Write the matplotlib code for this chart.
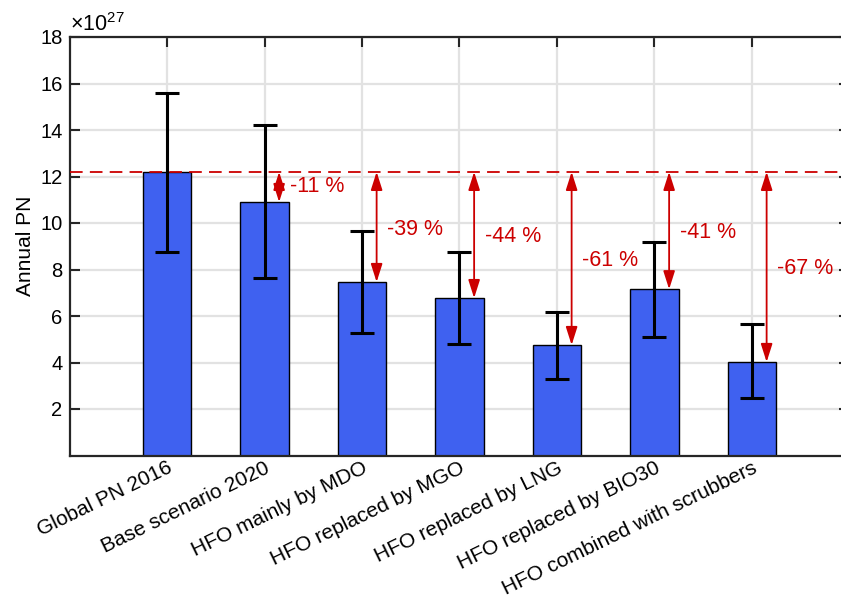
import numpy as np
import matplotlib.pyplot as plt

plt.rcParams['font.family'] = ['Liberation Sans', 'DejaVu Sans']
plt.rcParams['mathtext.fontset'] = 'custom'
plt.rcParams['mathtext.rm'] = 'Liberation Sans'

# annual particle number, in units of 1e27
scenarios = ['Global PN 2016', 'Base scenario 2020', 'HFO mainly by MDO',
             'HFO replaced by MGO', 'HFO replaced by LNG', 'HFO replaced by BIO30',
             'HFO combined with scrubbers']
pn_mean = [12.2, 10.9, 7.46, 6.77, 4.75, 7.15, 4.02]
pn_high = [15.6, 14.2, 9.66, 8.75, 6.17, 9.18, 5.66]
pn_low = [8.75, 7.63, 5.27, 4.80, 3.29, 5.10, 2.47]
change_labels = ['-11 %', '-39 %', '-44 %', '-61 %', '-41 %', '-67 %']
label_y = [11.55, 9.74, 9.4, 8.4, 9.61, 8.06]

blue = '#3F61F0'
red = '#CC0000'

fig = plt.figure(figsize=(8.41, 6.03), dpi=100)
ax = fig.add_axes([69.5 / 841, 1 - 455.5 / 603, 780 / 841, 418.5 / 603])

x = np.arange(1, len(scenarios) + 1)
mean = np.array(pn_mean)
yerr = [mean - np.array(pn_low), np.array(pn_high) - mean]

ax.bar(x, mean, width=0.5, color=blue, edgecolor='black', linewidth=1, zorder=2)
ax.errorbar(x, mean, yerr=yerr, fmt='none', ecolor='black', elinewidth=2.2,
            capsize=8.5, capthick=2.2, zorder=3)

# reference level and reductions relative to 2016
base = pn_mean[0]
ax.axhline(base, color=red, lw=1.3, linestyle=(0, (7, 4)), zorder=4)
for i in range(1, len(scenarios)):
    xa = x[i] + 0.15
    ax.annotate('', xy=(xa, pn_mean[i]), xytext=(xa, base),
                arrowprops=dict(arrowstyle='<|-|>,head_length=1.1,head_width=0.35',
                                color=red, lw=1.3, shrinkA=0, shrinkB=0,
                                mutation_scale=10),
                zorder=5)
    ax.text(xa + 0.11, label_y[i - 1], change_labels[i - 1], color=red,
            fontsize=15.5, ha='left', va='center', zorder=5)

ax.set_xlim(0, 8)
ax.set_ylim(0, 18)
ax.set_yticks(np.arange(2, 19, 2))
ax.set_xticks(x)
ax.set_xticklabels(scenarios, rotation=26, ha='right', va='top',
                   rotation_mode='anchor', fontsize=15)
ax.tick_params(axis='y', labelsize=14.5, pad=5)
ax.tick_params(axis='x', pad=2)
ax.tick_params(direction='in', length=7, width=1.5, top=True, right=True,
               color='#262626')
ax.grid(True, color='#E2E2E2', lw=1.6, zorder=0)
ax.set_axisbelow(True)
for s in ax.spines.values():
    s.set_linewidth(1.6)
    s.set_color('#262626')

ax.set_ylabel('Annual PN', fontsize=15, labelpad=4)
ax.text(0.0, 1.003, r'$\mathregular{\times10^{27}}$', transform=ax.transAxes,
        fontsize=15.5, ha='left', va='bottom')

fig.savefig('out.png', dpi=100)
